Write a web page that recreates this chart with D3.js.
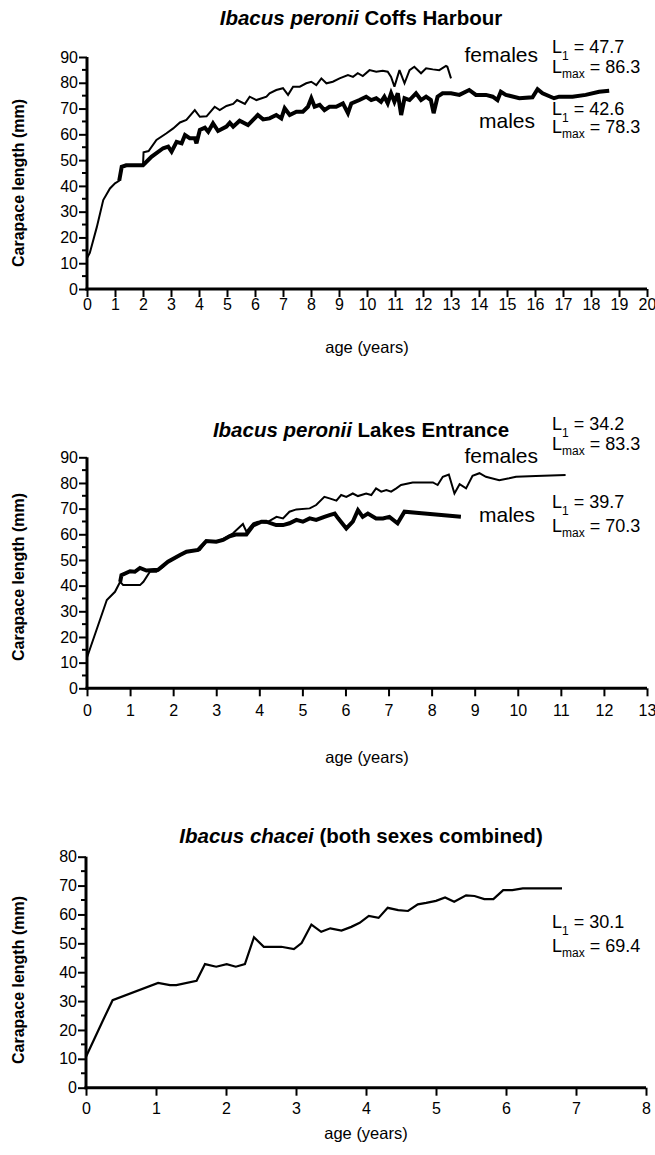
<!DOCTYPE html>
<html>
<head>
<meta charset="utf-8">
<script src="https://cdn.jsdelivr.net/npm/d3@7"></script>
<style>
  html, body { margin: 0; padding: 0; background: #fff; }
  svg { display: block; font-family: "Liberation Sans", Arial, Helvetica, sans-serif; }
</style>
</head>
<body>
<svg id="chart" width="655" height="1155"></svg>
<script>
// Mean carapace length by age, [age (years), length (mm)]

// Ibacus peronii, Coffs Harbour
const coffsFemales = [
  [0,12],[0.1,14],[0.35,24],[0.58,34.5],[0.82,39],[1.0,41],[1.15,42],[1.24,47.4],[1.4,48],[2.0,48],
  [2.02,53],[2.2,53.5],[2.48,57.8],[2.84,60.4],[3.08,62.3],[3.32,64.6],[3.55,65.6],[3.85,69.4],[4.03,66.8],
  [4.27,67],[4.56,70.7],[4.74,69.4],[4.98,71],[5.22,71.8],[5.36,73.3],[5.64,71.8],[5.81,74.6],[6.05,73.3],
  [6.41,74.6],[6.52,75.9],[6.76,77.2],[7.0,77.9],[7.18,75.3],[7.36,78.5],[7.6,78.5],[7.83,79.8],[8.01,80.4],
  [8.19,79.1],[8.37,81.7],[8.55,79.8],[8.78,80.4],[9.02,81.7],[9.32,83],[9.5,82.3],[9.67,83.7],[9.85,82.6],
  [10.09,84.9],[10.33,84.3],[10.56,84.7],[10.74,84.3],[10.86,82.3],[10.98,78.5],[11.16,84.9],[11.34,79.8],
  [11.52,84.9],[11.69,86.2],[11.93,83.7],[12.11,85.6],[12.35,85.2],[12.58,84.9],[12.82,86.5],[12.87,86.2],[13.0,81.7]
];
const coffsMales = [
  [1.15,42],[1.24,47.4],[1.4,48],[2.0,48],[2.3,51.3],[2.72,54.6],[2.9,55.2],[3.02,53.3],[3.2,57.1],[3.38,56.5],
  [3.5,59.7],[3.67,58.5],[3.85,58.5],[3.91,56.5],[4.03,61.7],[4.21,62.6],[4.33,61],[4.5,64.3],[4.68,61.3],
  [4.98,63],[5.1,64.5],[5.22,63],[5.45,65.3],[5.75,63.6],[6.1,67.5],[6.29,65.8],[6.52,66.2],[6.76,67.5],
  [6.94,66.2],[7.06,70.1],[7.24,67.5],[7.48,68.8],[7.71,68.8],[7.89,70.7],[8.01,74],[8.13,70.7],[8.31,71.4],
  [8.48,69.4],[8.66,70.7],[8.9,70.7],[9.14,72],[9.32,68.2],[9.44,72],[9.73,73.3],[9.97,74.6],[10.15,73.3],
  [10.33,74],[10.5,72.6],[10.62,74.6],[10.74,72],[10.86,75.9],[10.98,72.6],[11.1,75.9],[11.22,67.5],[11.34,74],
  [11.52,73.3],[11.75,75.9],[11.93,73.3],[12.11,74.6],[12.28,73.3],[12.38,68.2],[12.52,74.6],[12.7,75.9],
  [13.0,75.9],[13.3,75.3],[13.65,77.2],[13.89,75.3],[14.25,75.3],[14.49,74.6],[14.66,73.3],[14.78,76.5],
  [14.96,75.3],[15.44,74],[15.91,74.4],[16.09,77.5],[16.27,75.9],[16.68,74],[16.86,74.6],[17.34,74.6],
  [17.81,75.3],[18.29,76.5],[18.65,76.9]
];

// Ibacus peronii, Lakes Entrance
const lakesFemales = [
  [0,12],[0.46,34.4],[0.65,37.6],[0.77,41.5],[0.84,40.2],[1.23,40.2],[1.31,41.5],[1.46,45.4],[1.61,45.4],
  [1.77,47.4],[1.92,50],[2.16,51.9],[2.31,53.2],[2.54,53.9],[2.62,53.9],[2.77,57.1],[3.0,57.1],[3.16,58.2],
  [3.39,60.4],[3.62,64],[3.7,61],[3.86,64.3],[3.97,64.9],[4.16,64.5],[4.4,66.8],[4.55,66.2],[4.7,68.8],
  [4.86,69.7],[5.17,70.1],[5.32,71.4],[5.51,74.6],[5.63,74],[5.79,73.1],[5.9,75.3],[6.02,74.6],[6.17,75.9],
  [6.29,74.9],[6.48,75.9],[6.6,75.3],[6.71,77.9],[6.83,76.6],[6.95,77.2],[7.06,76.6],[7.18,77.9],[7.29,79.2],
  [7.56,80.2],[8.03,80.2],[8.14,79.2],[8.26,82.4],[8.4,83.3],[8.53,75.9],[8.65,79.5],[8.8,77.9],[8.95,82.8],
  [9.11,83.8],[9.26,82.4],[9.57,81.1],[9.8,81.8],[9.96,82.4],[10.42,82.7],[11.11,83.1]
];
const lakesMales = [
  [0.77,41.5],[0.8,44.1],[1.0,45.6],[1.11,45.4],[1.23,46.9],[1.38,45.9],[1.65,46.2],[1.88,49.3],[2.16,51.9],
  [2.31,53.2],[2.58,53.9],[2.77,57.4],[3.0,57.1],[3.16,57.8],[3.31,59.2],[3.45,59.9],[3.7,59.9],[3.86,63.5],
  [4.05,64.9],[4.16,64.9],[4.39,63.6],[4.55,63.6],[4.7,64.3],[4.86,65.6],[5.01,64.9],[5.17,66.2],[5.32,65.6],
  [5.51,66.8],[5.63,67.5],[5.75,68.1],[5.83,66.2],[6.02,62.3],[6.17,64.9],[6.29,69.4],[6.4,66.8],[6.52,68.1],
  [6.71,66.2],[6.87,66.2],[7.02,66.8],[7.21,64.3],[7.37,68.8],[7.64,68.4],[8.68,66.8]
];

// Ibacus chacei, both sexes combined
const chaceiBoth = [
  [0,10.7],[0.25,23.7],[0.38,30.3],[1.03,36.3],[1.2,35.5],[1.29,35.5],[1.58,37],[1.7,42.8],[1.86,41.9],
  [2.01,42.8],[2.14,41.9],[2.27,42.8],[2.4,52.1],[2.54,48.8],[2.79,48.8],[2.97,48],[3.08,50.1],[3.22,56.5],
  [3.36,54],[3.49,55.2],[3.65,54.4],[3.79,55.7],[3.91,57.1],[4.04,59.5],[4.18,58.8],[4.31,62.3],[4.46,61.5],
  [4.6,61.2],[4.74,63.5],[4.86,64],[5.0,64.7],[5.13,65.9],[5.26,64.4],[5.43,66.6],[5.55,66.4],[5.69,65.3],
  [5.82,65.3],[5.96,68.4],[6.09,68.4],[6.24,69],[6.38,69],[6.8,69]
];

// Growth parameters printed beside the curves
const coffsParams  = { females: { L1: "47.7", Lmax: "86.3" }, males: { L1: "42.6", Lmax: "78.3" } };
const lakesParams  = { females: { L1: "34.2", Lmax: "83.3" }, males: { L1: "39.7", Lmax: "70.3" } };
const chaceiParams = { L1: "30.1", Lmax: "69.4" };

// Panel titles: [italic species name, plain remainder]
const titles = [
  ["Ibacus peronii", " Coffs Harbour"],
  ["Ibacus peronii", " Lakes Entrance"],
  ["Ibacus chacei", " (both sexes combined)"]
];

const svg = d3.select("#chart");

function drawPanel(p) {
  const x = d3.scaleLinear().domain([0, p.xMax]).range([p.left, p.right]);
  const y = d3.scaleLinear().domain([0, p.yMax]).range([p.bottom, p.top]);
  const g = svg.append("g");

  // y axis: major ticks every 10, minor every 5
  const yMinor = d3.range(5, p.yMax, 10);
  g.selectAll(".yminor").data(yMinor).join("line")
    .attr("x1", p.left - 5).attr("x2", p.left)
    .attr("y1", d => y(d)).attr("y2", d => y(d))
    .attr("stroke", "#000").attr("stroke-width", 2);
  const yAxis = d3.axisLeft(y).tickValues(d3.range(0, p.yMax + 1, 10))
    .tickSize(8).tickPadding(1).tickSizeOuter(0);
  const ya = g.append("g").attr("transform", `translate(${p.left},0)`).call(yAxis);
  ya.select(".domain").attr("stroke-width", 3).attr("d", `M0,${p.bottom + 1.5}V${p.top}`);
  ya.selectAll(".tick line").attr("stroke-width", 2);
  ya.selectAll(".tick text").attr("font-size", 16).attr("fill", "#000")
    .attr("font-family", "'Liberation Sans', Arial, sans-serif");

  // x axis
  const xAxis = d3.axisBottom(x).tickValues(d3.range(0, p.xMax + 1, 1))
    .tickSize(8).tickPadding(p.xPad).tickSizeOuter(0);
  const xa = g.append("g").attr("transform", `translate(0,${p.bottom})`).call(xAxis);
  xa.select(".domain").attr("stroke-width", 3).attr("d", `M${p.left - 1.5},0H${p.right}`);
  xa.selectAll(".tick line").attr("stroke-width", 2);
  xa.selectAll(".tick text").attr("font-size", 16).attr("fill", "#000")
    .attr("font-family", "'Liberation Sans', Arial, sans-serif");

  // growth curves
  const line = d3.line().x(d => x(d[0])).y(d => y(d[1]));
  p.series.forEach(s => {
    g.append("path").datum(s.data)
      .attr("d", line)
      .attr("fill", "none").attr("stroke", "#000")
      .attr("stroke-width", s.width)
      .attr("stroke-linejoin", "miter").attr("stroke-miterlimit", 3);
  });

  // title
  const t = g.append("text").attr("x", 361).attr("y", p.titleY)
    .attr("text-anchor", "middle").attr("font-size", 20.5).attr("font-weight", "bold");
  t.append("tspan").attr("font-style", "italic").text(p.title[0]);
  t.append("tspan").text(p.title[1]);

  // axis titles
  g.append("text").attr("x", (p.left + p.right) / 2).attr("y", p.xLabelY)
    .attr("text-anchor", "middle").attr("font-size", 16.5).text("age (years)");
  g.append("text")
    .attr("transform", `translate(24,${p.yLabelC}) rotate(-90)`)
    .attr("text-anchor", "middle").attr("font-size", 16).attr("font-weight", "bold")
    .text("Carapace length (mm)");

  // series names and parameter annotations
  p.labels.forEach(l => {
    g.append("text").attr("x", l.x).attr("y", l.y).attr("text-anchor", "end")
      .attr("font-size", 21).text(l.text);
  });
  p.params.forEach(a => {
    const t1 = g.append("text").attr("x", 552).attr("y", a.y1).attr("font-size", 18);
    t1.append("tspan").text("L");
    t1.append("tspan").attr("font-size", 12).attr("dy", 7).text("1");
    t1.append("tspan").attr("dy", -7).text(" = " + a.v.L1);
    const t2 = g.append("text").attr("x", 552).attr("y", a.y2).attr("font-size", 18);
    t2.append("tspan").text("L");
    t2.append("tspan").attr("font-size", 12).attr("dy", 5).text("max");
    t2.append("tspan").attr("dy", -5).text(" = " + a.v.Lmax);
  });
}

drawPanel({
  left: 87, right: 647, top: 57, bottom: 289, xMax: 20, yMax: 90, xPad: 2,
  title: titles[0], titleY: 25, xLabelY: 353, yLabelC: 183,
  series: [{ data: coffsFemales, width: 2 }, { data: coffsMales, width: 4 }],
  labels: [{ text: "females", x: 538, y: 62 }, { text: "males", x: 535, y: 128 }],
  params: [{ v: coffsParams.females, y1: 53, y2: 73 }, { v: coffsParams.males, y1: 115, y2: 133 }]
});

drawPanel({
  left: 87, right: 647, top: 457.3, bottom: 688.3, xMax: 13, yMax: 90, xPad: 8,
  title: titles[1], titleY: 436.5, xLabelY: 763, yLabelC: 577,
  series: [{ data: lakesFemales, width: 2 }, { data: lakesMales, width: 4 }],
  labels: [{ text: "females", x: 538, y: 463 }, { text: "males", x: 535, y: 522 }],
  params: [{ v: lakesParams.females, y1: 430, y2: 450 }, { v: lakesParams.males, y1: 508, y2: 532 }]
});

drawPanel({
  left: 86, right: 646, top: 856.7, bottom: 1087.7, xMax: 8, yMax: 80, xPad: 7,
  title: titles[2], titleY: 843, xLabelY: 1139, yLabelC: 980,
  series: [{ data: chaceiBoth, width: 2.2 }],
  labels: [],
  params: [{ v: chaceiParams, y1: 928, y2: 952 }]
});
</script>
</body>
</html>
